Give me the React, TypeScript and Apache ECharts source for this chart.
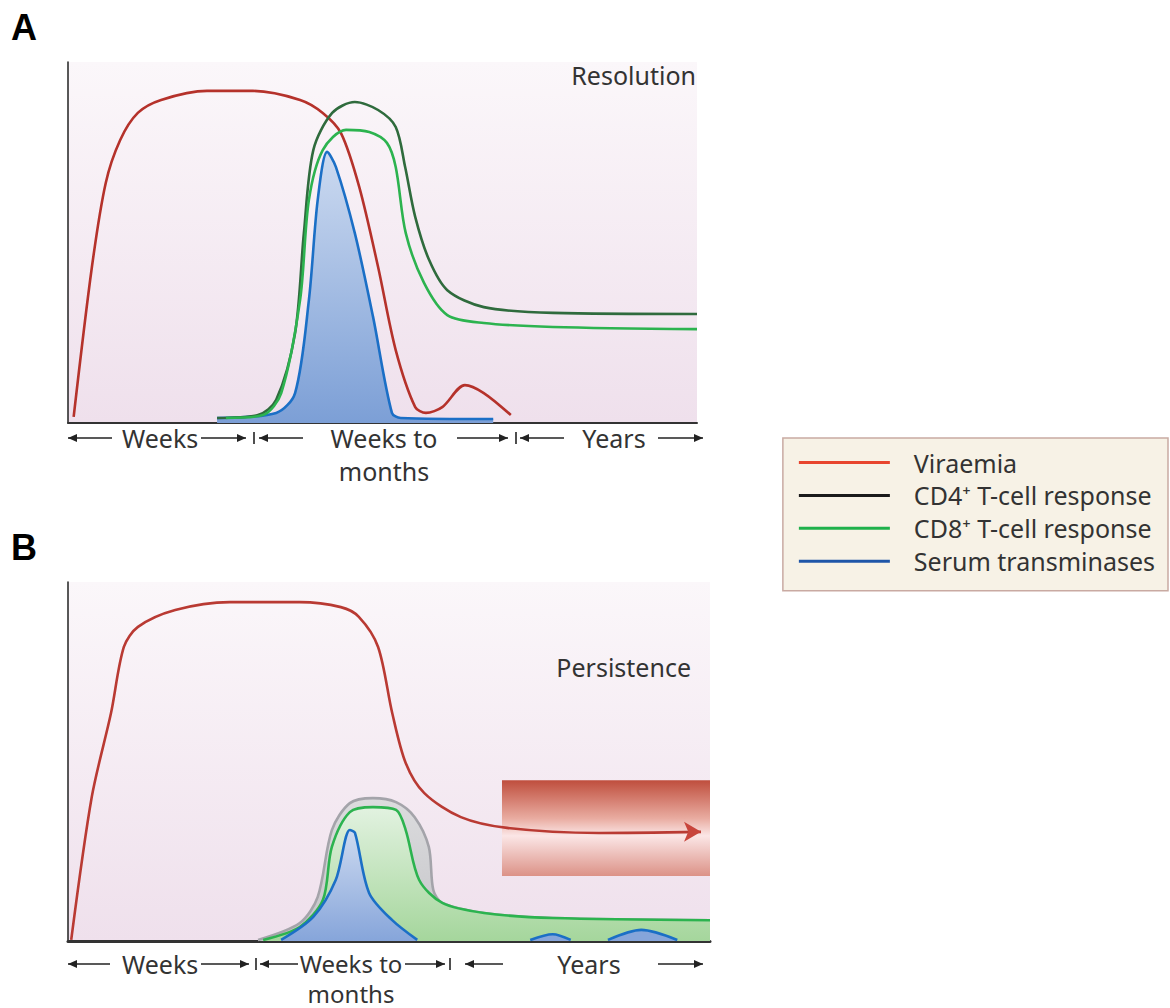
import React, { useEffect, useRef } from "react";
import * as echarts from "echarts";

// ---- Panel A (resolution): [time, level] in relative units 0-100 ----
const viraemiaA = [
  [0.9, 1.7], [3.8, 43.2], [6.0, 66.5], [8.3, 78.4], [11.1, 85.9], [14.8, 89.5],
  [22.1, 92.0], [29.4, 92.0], [36.9, 89.5], [40.5, 85.9], [43.4, 80.3], [46.3, 65.4],
  [49.3, 43.2], [52.1, 20.2], [55.2, 4.4], [56.9, 2.8], [59.5, 4.4], [63.1, 10.5],
  [66.1, 8.3], [70.4, 2.2],
];
const cd4A = [
  [23.7, 1.4], [30.2, 2.2], [33.1, 6.4], [36.1, 24.9], [37.5, 52.6], [39.0, 75.6],
  [42.0, 85.9], [45.6, 88.9], [49.3, 86.7], [52.1, 82.0], [53.6, 70.9], [55.2, 57.1],
  [57.4, 45.2], [60.3, 36.8], [66.1, 32.1], [77.1, 30.5], [100, 30.2],
];
const cd8A = [
  [25.1, 1.4], [31.0, 2.2], [33.9, 8.3], [36.9, 34.1], [38.3, 61.8], [40.5, 75.6],
  [44.2, 81.2], [47.9, 80.6], [50.7, 77.6], [52.1, 70.9], [53.7, 52.6], [56.6, 38.8],
  [60.3, 29.9], [66.1, 27.7], [77.1, 26.6], [100, 26.0],
];
const transA = [
  [23.7, 1.4], [33.1, 2.8], [36.1, 8.3], [38.3, 34.1], [39.7, 61.8], [41.2, 75.1],
  [42.6, 70.9], [45.6, 52.6], [48.5, 29.4], [51.5, 2.8], [52.9, 1.4], [67.6, 1.1],
];

// ---- Panel B (persistence) ----
const viraemiaB = [
  [0.5, 0.3], [3.7, 40.1], [6.7, 63.5], [8.7, 81.9], [10.9, 87.5], [16.7, 92.2],
  [25.2, 94.4], [36.1, 94.4], [42.5, 93.0], [45.3, 90.3], [48.3, 81.9], [50.5, 63.5],
  [52.6, 49.6], [55.5, 41.2], [61.2, 34.5], [68.4, 31.5], [82.7, 30.1], [98.6, 30.4],
];
const cd4B = [
  [29.6, 0.3], [36.1, 5.0], [38.9, 12.3], [41.1, 30.9], [43.9, 38.4], [47.5, 39.8],
  [51.1, 38.7], [54.0, 34.5], [56.2, 26.2], [56.9, 14.2], [58.3, 10.6], [64.8, 7.8],
  [75.5, 6.4], [100, 5.8],
];
const cd8B = [
  [30.4, 0.3], [36.1, 3.9], [39.7, 11.4], [41.1, 26.2], [43.9, 35.9], [47.5, 37.3],
  [51.1, 36.5], [52.6, 30.9], [54.7, 17.0], [58.3, 10.6], [64.8, 7.8], [75.5, 6.4],
  [100, 5.8],
];
const transB = [
  [33.2, 0.3], [38.2, 6.7], [41.7, 17.0], [43.9, 30.9], [44.7, 30.1], [46.9, 13.4],
  [50.5, 5.8], [54.4, 0.3],
];
const transB2 = [[72.0, 0.3], [75.5, 1.9], [78.3, 0.3]];
const transB3 = [[84.1, 0.3], [89.3, 3.1], [94.9, 0.3]];
// persistent viraemia range box (x range, y range)
const persistBox = { x: [67.6, 100], y: [18.1, 44.8] };

const NAMES = ["Viraemia", "CD4⁺ T-cell response", "CD8⁺ T-cell response", "Serum transminases"];
const LEGEND_COLORS = ["#e8452e", "#1a1a1a", "#1fb14b", "#1f56a8"];

const FONT = "'Noto Sans', 'Open Sans', sans-serif";
const TXT = "#333333";

const RED = "#b5322b";
const DKGREEN = "#2f6b3d";
const GREEN = "#2cb34f";
const BLUE = "#1b6fc6";

function lg(c0: string, c1: string) {
  return new echarts.graphic.LinearGradient(0, 0, 0, 1, [
    { offset: 0, color: c0 },
    { offset: 1, color: c1 },
  ]);
}

function arrowLine(x1: number, x2: number, y: number, dir: "l" | "r") {
  const els: any[] = [
    { type: "line", shape: { x1, y1: y, x2, y2: y }, style: { stroke: "#222", lineWidth: 1.6 } },
  ];
  const tip = dir === "l" ? Math.min(x1, x2) : Math.max(x1, x2);
  const back = dir === "l" ? tip + 9 : tip - 9;
  els.push({
    type: "polygon",
    shape: { points: [[tip, y], [back, y - 4], [back, y + 4]] },
    style: { fill: "#222" },
  });
  return els;
}
function tick(x: number, y: number) {
  return { type: "line", shape: { x1: x, y1: y - 6, x2: x, y2: y + 6 }, style: { stroke: "#222", lineWidth: 1.6 } };
}
function label(text: string, x: number, y: number, align = "center", size = 25) {
  return {
    type: "text",
    x,
    y,
    style: { text, font: `${size}px ${FONT}`, lineHeight: 22, fill: TXT, align, verticalAlign: "middle" },
  };
}

export default function App() {
  const ref = useRef<HTMLDivElement>(null);
  useEffect(() => {
    if (!ref.current) return;
    const chart = echarts.init(ref.current, null, { renderer: "svg" });
    const bg = lg("#fbf7fa", "#efe0ec");
    const axisCommon = {
      type: "value",
      min: 0,
      max: 100,
      axisTick: { show: false },
      axisLabel: { show: false },
      splitLine: { show: false },
    };
    const line = (name: string, data: any, color: string, xi: number, extra: any = {}) => ({
      type: "line",
      name,
      xAxisIndex: xi,
      yAxisIndex: xi,
      data,
      smooth: 0.3,
      symbol: "none",
      lineStyle: { color, width: 2.6 },
      itemStyle: { color },
      silent: true,
      ...extra,
    });

    const redB = viraemiaB.map((p, i) =>
      i === viraemiaB.length - 1
        ? { value: p, symbol: "arrow", symbolSize: [15, 17], symbolRotate: -90, itemStyle: { color: "#c8453c" } }
        : { value: p, symbol: "none" }
    );

    const titleStyle = { fontFamily: "'Liberation Sans', Arial, sans-serif", fontWeight: "bold", fontSize: 36, color: "#000" };
    const option: any = {
      animation: false,
      title: [
        { text: "A", left: 6, top: 4, textStyle: titleStyle },
        { text: "B", left: 6, top: 524, textStyle: titleStyle },
      ],
      grid: [
        { left: 68, top: 62, width: 629, height: 361, show: true, backgroundColor: bg, borderWidth: 0 },
        { left: 68, top: 582, width: 642, height: 359, show: true, backgroundColor: bg, borderWidth: 0 },
      ],
      xAxis: [
        { ...axisCommon, gridIndex: 0, axisLine: { show: true, lineStyle: { color: "#333", width: 2 } } },
        { ...axisCommon, gridIndex: 1, axisLine: { show: true, lineStyle: { color: "#333", width: 3 } } },
      ],
      yAxis: [
        { ...axisCommon, gridIndex: 0, axisLine: { show: true, lineStyle: { color: "#222", width: 1.5 } } },
        { ...axisCommon, gridIndex: 1, axisLine: { show: true, lineStyle: { color: "#222", width: 1.5 } } },
      ],
      legend: {
        right: 2,
        top: 438,
        orient: "vertical",
        icon: "rect",
        itemWidth: 91,
        itemHeight: 3,
        itemGap: 7.9,
        padding: [12, 13, 17, 16],
        backgroundColor: "#f7f2e6",
        borderColor: "#c9aaa2",
        borderWidth: 1.5,
        selectedMode: false,
        textStyle: { fontFamily: FONT, fontSize: 25, color: TXT, lineHeight: 24, padding: [0, 0, 0, 19] },
        data: NAMES.map((n, i) => ({ name: n, itemStyle: { color: LEGEND_COLORS[i] } })),
      },
      series: [
        // Panel A
        line(NAMES[3], transA, BLUE, 0, { areaStyle: { color: lg("#ccdaf0", "#7c9fd6"), opacity: 1 }, z: 2 }),
        line(NAMES[0], viraemiaA, RED, 0, { z: 3 }),
        line(NAMES[1], cd4A, DKGREEN, 0, { z: 4 }),
        line(NAMES[2], cd8A, GREEN, 0, { z: 5 }),
        // Panel B
        line(NAMES[0], redB, "#c0403a", 1, {
          z: 6,
          showSymbol: true,
          lineStyle: { color: "#b93a33", width: 2.6 },
          markArea: {
            silent: true,
            itemStyle: {
              color: new echarts.graphic.LinearGradient(0, 0, 0, 1, [
                { offset: 0, color: "#bf4e3d" },
                { offset: 0.4, color: "#e9aca1" },
                { offset: 0.58, color: "#fbe6e6" },
                { offset: 1, color: "#dc9287" },
              ]),
            },
            data: [[{ xAxis: persistBox.x[0], yAxis: persistBox.y[0] }, { xAxis: persistBox.x[1], yAxis: persistBox.y[1] }]],
          },
        }),
        line(NAMES[1], cd4B, "#a6a6ac", 1, { z: 3, areaStyle: { color: lg("#dcdcde", "#c4c4c8"), opacity: 1 }, lineStyle: { color: "#a4a4aa", width: 2.6 } }),
        line(NAMES[2], cd8B, GREEN, 1, { z: 4, areaStyle: { color: lg("#e2f2e0", "#a5d69c"), opacity: 1 } }),
        line(NAMES[3], transB, BLUE, 1, { z: 5, areaStyle: { color: lg("#cddaf0", "#86a5da"), opacity: 1 } }),
        line(NAMES[3], transB2, BLUE, 1, { z: 5, areaStyle: { color: "#86a5da", opacity: 1 } }),
        line(NAMES[3], transB3, BLUE, 1, { z: 5, areaStyle: { color: "#86a5da", opacity: 1 } }),
      ],
      graphic: [
        { type: "text", right: 1170 - 696, top: 62, style: { text: "Resolution", font: `25px ${FONT}`, fill: TXT } },
        { type: "text", right: 1170 - 691, top: 654, style: { text: "Persistence", font: `25px ${FONT}`, fill: TXT } },
        // Panel A time scale
        ...arrowLine(68, 112, 438, "l"),
        label("Weeks", 122, 438, "left"),
        ...arrowLine(201, 246, 438, "r"),
        tick(254, 438),
        ...arrowLine(259, 303, 438, "l"),
        label("Weeks to", 384, 438),
        label("months", 384, 471),
        ...arrowLine(457, 508, 438, "r"),
        tick(516, 438),
        ...arrowLine(520, 564, 438, "l"),
        label("Years", 614, 438),
        ...arrowLine(658, 703, 438, "r"),
        // Panel B time scale
        ...arrowLine(68, 110, 964, "l"),
        label("Weeks", 122, 964, "left"),
        ...arrowLine(201, 249, 964, "r"),
        tick(256, 964),
        ...arrowLine(260, 298, 964, "l"),
        label("Weeks to", 351, 963, "center", 24),
        label("months", 351, 993, "center", 24),
        ...arrowLine(405, 445, 964, "r"),
        tick(450, 964),
        ...arrowLine(465, 503, 964, "l"),
        label("Years", 589, 964),
        ...arrowLine(658, 703, 964, "r"),
      ],
    };
    chart.setOption(option);
    return () => chart.dispose();
  }, []);
  return (
    <div
      ref={ref}
      style={{ position: "fixed", left: 0, top: 0, width: 1170, height: 1008, background: "#ffffff" }}
    />
  );
}
